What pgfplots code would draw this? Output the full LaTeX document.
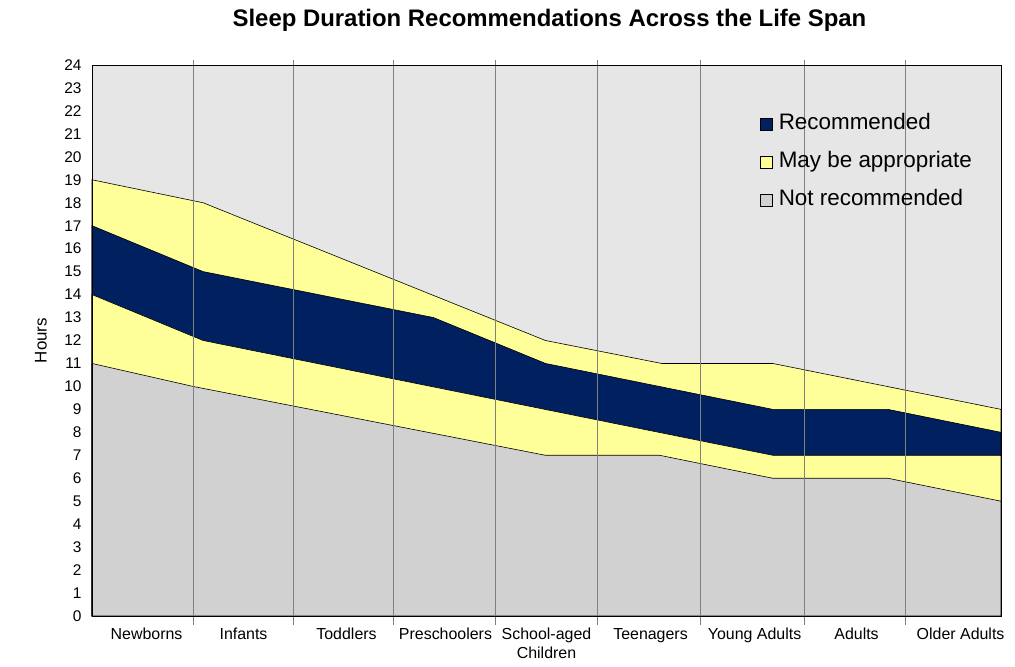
\documentclass[border=0pt]{standalone}
\usepackage{fontspec}
\setmainfont{Liberation Sans}
\usepackage{pgfplots}
\pgfplotsset{compat=1.18}
\definecolor{navyrec}{RGB}{0,32,96}
\definecolor{mayyel}{RGB}{255,255,153}
\definecolor{notgrey}{RGB}{209,209,209}
\definecolor{bggrey}{RGB}{230,230,230}
\definecolor{gridgrey}{RGB}{128,128,128}
\begin{document}
\begin{tikzpicture}
\useasboundingbox (-92bp,-51bp) rectangle (923bp,616bp);
\begin{axis}[
  at={(0,0)}, anchor=south west,
  scale only axis, width=909bp, height=551bp,
  xmin=0, xmax=9, ymin=0, ymax=24,
  axis background/.style={fill=bggrey},
  axis on top,
  axis line style={black, line width=0.8bp},
  ytick={0,...,24},
  ytick style={draw=none},
  xtick={0.54,1.5,2.52,3.5,4.5,5.53,6.56,7.57,8.6},
  xticklabels={Newborns,Infants,Toddlers,Preschoolers,School-aged\\Children,Teenagers,Young Adults,Adults,Older Adults},
  xtick style={draw=none},
  xticklabel style={font=\fontsize{16}{19}\selectfont, align=center, anchor=north, inner sep=0pt, yshift=-12bp},
  yticklabel style={font=\fontsize{15.5}{18}\selectfont, xshift=-7bp},
  /pgf/number format/assume math mode=true,
  ylabel={Hours},
  ylabel style={font=\fontsize{17}{20}\selectfont, at={(axis description cs:-0.0561,0.5)}, anchor=center},
  title={Sleep Duration Recommendations Across the Life Span},
  title style={font=\bfseries\fontsize{24}{28}\selectfont, at={(axis description cs:0.5033,1.0583)}, anchor=base},
  clip=false,
  legend style={draw=none, fill=none, at={(axis description cs:0.7316,0.9183)}, anchor=north west, font=\fontsize{22.5}{27}\selectfont, row sep=16bp, nodes={inner sep=0pt, text height=17bp, text depth=5bp}, /tikz/every odd column/.append style={column sep=6bp}},
  legend cell align=left,
  legend image code/.code={\draw[#1, draw=black, line width=0.6bp] (0bp,-7bp) rectangle (12bp,5bp);},
]
\addplot[fill=mayyel, draw=black, line width=0.6bp, forget plot] coordinates {(0,19) (1.10,18) (4.49,12) (5.64,11) (6.74,11) (9,9)} \closedcycle;
\addplot[fill=navyrec, draw=black, line width=0.6bp, forget plot] coordinates {(0,17) (1.10,15) (3.38,13) (4.49,11) (6.74,9) (7.88,9) (9,8)} \closedcycle;
\addplot[fill=mayyel, draw=black, line width=0.6bp, forget plot] coordinates {(0,14) (1.10,12) (6.74,7) (9,7)} \closedcycle;
\addplot[fill=notgrey, draw=black, line width=0.6bp, forget plot] coordinates {(0,11) (1,10) (4.49,7) (5.62,7) (6.74,6) (7.88,6) (9,5)} \closedcycle;
\addlegendimage{fill=navyrec}
\addlegendentry{Recommended}
\addlegendimage{fill=mayyel}
\addlegendentry{May be appropriate}
\addlegendimage{fill=notgrey}
\addlegendentry{Not recommended}
\pgfplotsinvokeforeach{1.0,1.99,2.98,3.99,5.0,6.02,7.05,8.05}{\draw[gridgrey, line width=0.8bp] (axis cs:#1,-0.39) -- (axis cs:#1,24.22);}
\end{axis}
\end{tikzpicture}
\end{document}
